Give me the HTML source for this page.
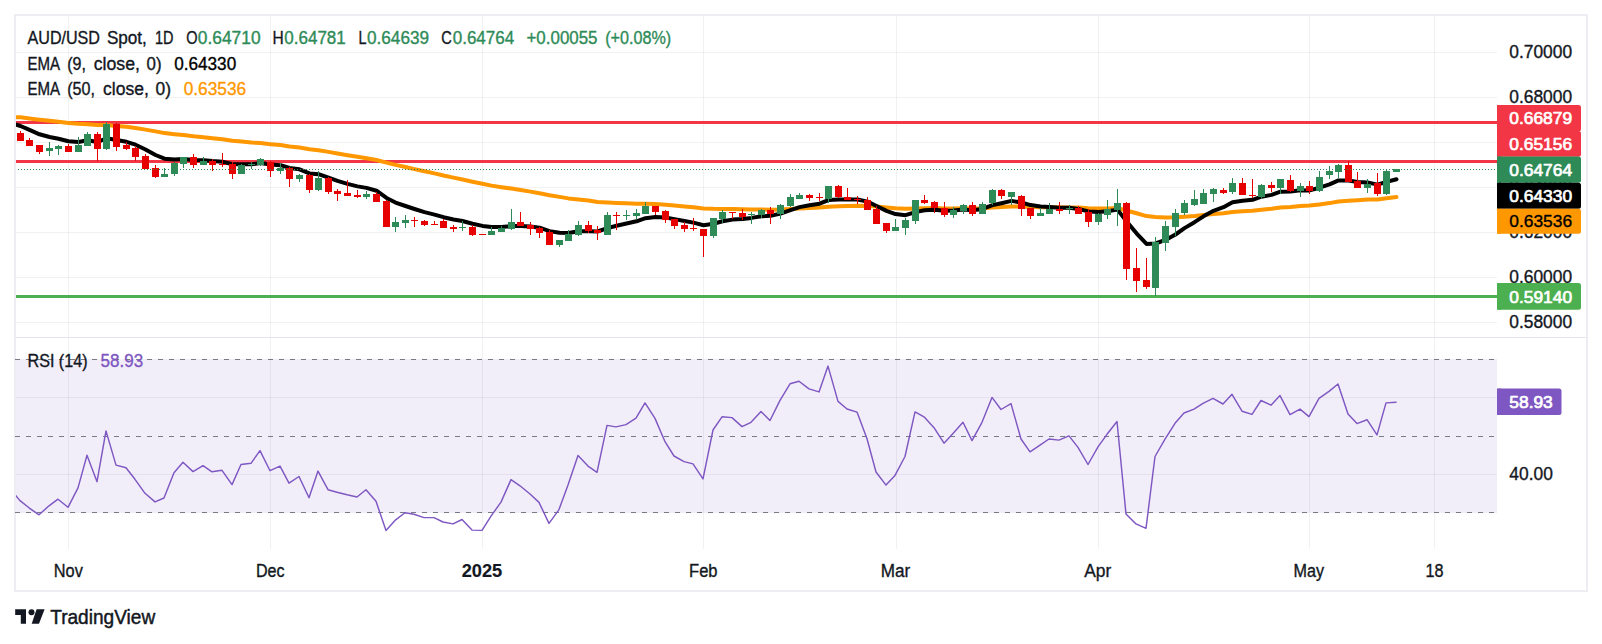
<!DOCTYPE html>
<html lang="en"><head><meta charset="utf-8"><title>AUD/USD Spot, 1D - TradingView</title>
<style>html,body{margin:0;padding:0;background:#fff;}body{width:1602px;height:644px;overflow:hidden;font-family:"Liberation Sans",Arial,sans-serif;}svg{display:block}</style>
</head><body>
<svg width="1602" height="644" viewBox="0 0 1602 644" font-family="'Liberation Sans', Arial, sans-serif">
<defs>
<clipPath id="cm"><rect x="16" y="16" width="1481" height="321"/></clipPath>
<clipPath id="cr"><rect x="16" y="338" width="1481" height="211"/></clipPath>
</defs>
<rect width="1602" height="644" fill="#fff"/>
<rect x="15" y="15" width="1572" height="576" fill="none" stroke="#eceef4" stroke-width="2"/>
<rect x="16" y="337" width="1570" height="1" fill="#e3e5ec"/>
<rect x="16" y="359" width="1481" height="154" fill="#f2eef9"/>
<g fill="rgba(42,46,57,0.065)" shape-rendering="crispEdges">
<rect x="68" y="16" width="1" height="321"/><rect x="68" y="338" width="1" height="211"/>
<rect x="270" y="16" width="1" height="321"/><rect x="270" y="338" width="1" height="211"/>
<rect x="482" y="16" width="1" height="321"/><rect x="482" y="338" width="1" height="211"/>
<rect x="703" y="16" width="1" height="321"/><rect x="703" y="338" width="1" height="211"/>
<rect x="896" y="16" width="1" height="321"/><rect x="896" y="338" width="1" height="211"/>
<rect x="1098" y="16" width="1" height="321"/><rect x="1098" y="338" width="1" height="211"/>
<rect x="1309" y="16" width="1" height="321"/><rect x="1309" y="338" width="1" height="211"/>
<rect x="1434" y="16" width="1" height="321"/><rect x="1434" y="338" width="1" height="211"/>
<rect x="16" y="52" width="1481" height="1"/>
<rect x="16" y="97" width="1481" height="1"/>
<rect x="16" y="142" width="1481" height="1"/>
<rect x="16" y="187" width="1481" height="1"/>
<rect x="16" y="232" width="1481" height="1"/>
<rect x="16" y="277" width="1481" height="1"/>
<rect x="16" y="322" width="1481" height="1"/>
<rect x="16" y="397" width="1481" height="1"/>
<rect x="16" y="474" width="1481" height="1"/>
</g>
<g clip-path="url(#cm)">
<rect x="16" y="121" width="1481" height="3" fill="#f23645"/>
<rect x="16" y="160" width="1481" height="3" fill="#f23645"/>
<rect x="16" y="295" width="1481" height="3" fill="#4caf50"/>
<polyline points="10.5,117.0 20.5,117.3 29.5,118.4 39.5,119.7 49.5,120.8 58.5,121.8 68.5,122.9 78.5,123.8 87.5,124.2 97.5,125.1 106.5,125.1 116.5,125.9 126.5,126.8 135.5,128.0 145.5,129.6 155.5,131.4 164.5,133.1 174.5,134.2 183.5,135.1 193.5,136.3 203.5,137.2 212.5,138.3 222.5,139.3 232.5,140.7 241.5,141.6 251.5,142.5 260.5,143.1 270.5,144.2 280.5,145.1 289.5,146.4 299.5,147.5 309.5,149.2 318.5,150.3 328.5,151.9 337.5,153.5 347.5,155.2 357.5,156.8 366.5,158.3 376.5,160.0 386.5,162.6 395.5,164.9 405.5,167.0 414.5,169.1 424.5,171.3 434.5,173.4 443.5,175.5 453.5,177.6 462.5,179.5 472.5,181.7 482.5,183.8 491.5,185.6 501.5,187.2 511.5,188.6 520.5,190.0 530.5,191.6 539.5,193.2 549.5,195.2 559.5,196.9 568.5,198.4 578.5,199.4 588.5,200.6 597.5,201.9 607.5,202.4 616.5,202.9 626.5,203.3 636.5,203.7 645.5,203.8 655.5,204.1 665.5,204.7 674.5,205.5 684.5,206.4 693.5,207.3 703.5,208.4 713.5,208.8 722.5,208.9 732.5,209.0 742.5,209.3 751.5,209.5 761.5,209.5 770.5,209.7 780.5,209.5 790.5,208.9 799.5,208.4 809.5,208.0 819.5,207.6 828.5,206.7 838.5,206.3 847.5,206.0 857.5,205.8 867.5,205.9 876.5,206.6 886.5,207.6 895.5,208.3 905.5,208.8 915.5,208.4 924.5,208.2 934.5,208.1 944.5,208.4 953.5,208.4 963.5,208.3 972.5,208.5 982.5,208.3 992.5,207.6 1001.5,207.1 1011.5,206.5 1021.5,206.6 1030.5,206.9 1040.5,207.2 1049.5,207.2 1059.5,207.3 1069.5,207.4 1078.5,207.6 1088.5,208.2 1098.5,208.4 1107.5,208.4 1117.5,208.1 1126.5,210.5 1136.5,213.3 1146.5,216.1 1155.5,217.1 1165.5,217.5 1175.5,217.3 1184.5,216.7 1194.5,216.0 1203.5,215.1 1213.5,214.0 1223.5,213.2 1232.5,212.0 1242.5,211.3 1252.5,210.7 1261.5,209.7 1271.5,208.8 1280.5,207.6 1290.5,207.0 1300.5,206.1 1309.5,205.5 1319.5,204.4 1329.5,203.1 1338.5,201.5 1348.5,200.8 1357.5,200.2 1367.5,199.6 1377.5,199.4 1386.5,198.2 1396.5,197.1" fill="none" stroke="#ff9800" stroke-width="4" stroke-linejoin="round" stroke-linecap="round"/>
<polyline points="10.5,123.0 20.5,126.0 29.5,129.9 39.5,134.3 49.5,137.0 58.5,138.7 68.5,141.3 78.5,142.0 87.5,140.3 97.5,142.0 106.5,138.3 116.5,140.0 126.5,141.8 135.5,144.7 145.5,149.5 155.5,155.0 164.5,158.7 174.5,159.5 183.5,158.9 193.5,160.1 203.5,160.2 212.5,161.1 222.5,161.8 232.5,164.2 241.5,164.3 251.5,164.2 260.5,163.1 270.5,164.6 280.5,165.2 289.5,167.9 299.5,169.3 309.5,173.4 318.5,174.2 328.5,177.7 337.5,180.9 347.5,183.9 357.5,186.4 366.5,187.9 376.5,190.7 386.5,197.9 395.5,202.6 405.5,206.0 414.5,209.0 424.5,212.1 434.5,214.6 443.5,217.2 453.5,219.5 462.5,221.0 472.5,223.7 482.5,225.9 491.5,226.9 501.5,227.0 511.5,226.0 520.5,225.9 530.5,226.5 539.5,227.7 549.5,231.1 559.5,232.8 568.5,233.0 578.5,231.3 588.5,231.2 597.5,231.5 607.5,228.1 616.5,225.7 626.5,223.5 636.5,221.3 645.5,218.2 655.5,216.9 665.5,217.5 674.5,219.1 684.5,221.0 693.5,222.6 703.5,225.2 713.5,223.7 722.5,221.3 732.5,219.6 742.5,219.0 751.5,217.9 761.5,216.3 770.5,215.8 780.5,213.6 790.5,210.2 799.5,207.1 809.5,205.2 819.5,203.7 828.5,200.1 838.5,199.4 847.5,199.5 857.5,199.5 867.5,201.6 876.5,206.0 886.5,210.9 895.5,214.1 905.5,215.2 915.5,212.1 924.5,210.2 934.5,209.7 944.5,210.7 953.5,210.5 963.5,209.4 972.5,210.2 982.5,208.9 992.5,205.1 1001.5,203.2 1011.5,200.9 1021.5,202.5 1030.5,205.1 1040.5,206.6 1049.5,207.0 1059.5,207.8 1069.5,207.8 1078.5,208.9 1088.5,211.5 1098.5,211.9 1107.5,211.3 1117.5,209.6 1126.5,221.4 1136.5,233.3 1146.5,243.9 1155.5,243.5 1165.5,239.9 1175.5,234.5 1184.5,228.1 1194.5,222.2 1203.5,216.3 1213.5,210.8 1223.5,207.2 1232.5,202.3 1242.5,200.8 1252.5,199.8 1261.5,196.7 1271.5,194.9 1280.5,191.7 1290.5,191.5 1300.5,190.3 1309.5,190.4 1319.5,187.7 1329.5,184.3 1338.5,180.4 1348.5,180.6 1357.5,182.0 1367.5,182.4 1377.5,184.6 1386.5,181.9 1396.5,179.2" fill="none" stroke="#000" stroke-width="4" stroke-linejoin="round" stroke-linecap="round"/>
<g shape-rendering="crispEdges">
<rect x="20" y="131" width="1" height="10" fill="#e60000"/><rect x="17" y="133" width="7" height="8" fill="#e60000"/>
<rect x="29" y="138" width="1" height="8" fill="#e60000"/><rect x="26" y="140" width="7" height="6" fill="#e60000"/>
<rect x="39" y="145" width="1" height="9" fill="#e60000"/><rect x="36" y="145" width="7" height="7" fill="#e60000"/>
<rect x="49" y="142" width="1" height="14" fill="#2e8b57"/><rect x="46" y="148" width="7" height="3" fill="#2e8b57"/>
<rect x="58" y="145" width="1" height="10" fill="#2e8b57"/><rect x="55" y="146" width="7" height="3" fill="#2e8b57"/>
<rect x="68" y="144" width="1" height="8" fill="#e60000"/><rect x="65" y="146" width="7" height="6" fill="#e60000"/>
<rect x="78" y="137" width="1" height="15" fill="#2e8b57"/><rect x="75" y="145" width="7" height="7" fill="#2e8b57"/>
<rect x="87" y="132" width="1" height="14" fill="#2e8b57"/><rect x="84" y="134" width="7" height="12" fill="#2e8b57"/>
<rect x="97" y="132" width="1" height="29" fill="#e60000"/><rect x="94" y="134" width="7" height="15" fill="#e60000"/>
<rect x="106" y="122" width="1" height="28" fill="#2e8b57"/><rect x="103" y="124" width="7" height="25" fill="#2e8b57"/>
<rect x="116" y="123" width="1" height="28" fill="#e60000"/><rect x="113" y="124" width="7" height="23" fill="#e60000"/>
<rect x="126" y="142" width="1" height="8" fill="#e60000"/><rect x="123" y="145" width="7" height="4" fill="#e60000"/>
<rect x="135" y="146" width="1" height="15" fill="#e60000"/><rect x="132" y="148" width="7" height="9" fill="#e60000"/>
<rect x="145" y="154" width="1" height="15" fill="#e60000"/><rect x="142" y="156" width="7" height="13" fill="#e60000"/>
<rect x="155" y="165" width="1" height="13" fill="#e60000"/><rect x="152" y="168" width="7" height="9" fill="#e60000"/>
<rect x="164" y="168" width="1" height="9" fill="#2e8b57"/><rect x="161" y="174" width="7" height="3" fill="#2e8b57"/>
<rect x="174" y="162" width="1" height="14" fill="#2e8b57"/><rect x="171" y="163" width="7" height="11" fill="#2e8b57"/>
<rect x="183" y="157" width="1" height="11" fill="#2e8b57"/><rect x="180" y="157" width="7" height="7" fill="#2e8b57"/>
<rect x="193" y="154" width="1" height="14" fill="#e60000"/><rect x="190" y="157" width="7" height="8" fill="#e60000"/>
<rect x="203" y="157" width="1" height="8" fill="#2e8b57"/><rect x="200" y="161" width="7" height="4" fill="#2e8b57"/>
<rect x="212" y="159" width="1" height="12" fill="#e60000"/><rect x="209" y="161" width="7" height="4" fill="#e60000"/>
<rect x="222" y="153" width="1" height="14" fill="#e60000"/><rect x="219" y="164" width="7" height="1" fill="#e60000"/>
<rect x="232" y="162" width="1" height="17" fill="#e60000"/><rect x="229" y="164" width="7" height="10" fill="#e60000"/>
<rect x="241" y="164" width="1" height="10" fill="#2e8b57"/><rect x="238" y="165" width="7" height="9" fill="#2e8b57"/>
<rect x="251" y="162" width="1" height="7" fill="#2e8b57"/><rect x="248" y="164" width="7" height="1" fill="#2e8b57"/>
<rect x="260" y="158" width="1" height="8" fill="#2e8b57"/><rect x="257" y="159" width="7" height="6" fill="#2e8b57"/>
<rect x="270" y="161" width="1" height="16" fill="#e60000"/><rect x="267" y="162" width="7" height="9" fill="#e60000"/>
<rect x="280" y="163" width="1" height="11" fill="#2e8b57"/><rect x="277" y="168" width="7" height="3" fill="#2e8b57"/>
<rect x="289" y="167" width="1" height="20" fill="#e60000"/><rect x="286" y="168" width="7" height="11" fill="#e60000"/>
<rect x="299" y="174" width="1" height="8" fill="#2e8b57"/><rect x="296" y="175" width="7" height="4" fill="#2e8b57"/>
<rect x="309" y="174" width="1" height="19" fill="#e60000"/><rect x="306" y="175" width="7" height="15" fill="#e60000"/>
<rect x="318" y="171" width="1" height="20" fill="#2e8b57"/><rect x="315" y="178" width="7" height="12" fill="#2e8b57"/>
<rect x="328" y="177" width="1" height="17" fill="#e60000"/><rect x="325" y="178" width="7" height="14" fill="#e60000"/>
<rect x="337" y="189" width="1" height="12" fill="#e60000"/><rect x="334" y="191" width="7" height="3" fill="#e60000"/>
<rect x="347" y="180" width="1" height="16" fill="#e60000"/><rect x="344" y="193" width="7" height="3" fill="#e60000"/>
<rect x="357" y="190" width="1" height="8" fill="#e60000"/><rect x="354" y="195" width="7" height="2" fill="#e60000"/>
<rect x="366" y="191" width="1" height="8" fill="#2e8b57"/><rect x="363" y="194" width="7" height="3" fill="#2e8b57"/>
<rect x="376" y="192" width="1" height="10" fill="#e60000"/><rect x="373" y="194" width="7" height="8" fill="#e60000"/>
<rect x="386" y="200" width="1" height="27" fill="#e60000"/><rect x="383" y="201" width="7" height="26" fill="#e60000"/>
<rect x="395" y="217" width="1" height="15" fill="#2e8b57"/><rect x="392" y="222" width="7" height="5" fill="#2e8b57"/>
<rect x="405" y="215" width="1" height="13" fill="#2e8b57"/><rect x="402" y="220" width="7" height="3" fill="#2e8b57"/>
<rect x="414" y="217" width="1" height="10" fill="#e60000"/><rect x="411" y="220" width="7" height="1" fill="#e60000"/>
<rect x="424" y="220" width="1" height="6" fill="#e60000"/><rect x="421" y="221" width="7" height="4" fill="#e60000"/>
<rect x="434" y="221" width="1" height="4" fill="#e60000"/><rect x="431" y="224" width="7" height="1" fill="#e60000"/>
<rect x="443" y="219" width="1" height="9" fill="#e60000"/><rect x="440" y="221" width="7" height="7" fill="#e60000"/>
<rect x="453" y="225" width="1" height="7" fill="#e60000"/><rect x="450" y="227" width="7" height="2" fill="#e60000"/>
<rect x="462" y="221" width="1" height="10" fill="#2e8b57"/><rect x="459" y="227" width="7" height="1" fill="#2e8b57"/>
<rect x="472" y="225" width="1" height="11" fill="#e60000"/><rect x="469" y="227" width="7" height="8" fill="#e60000"/>
<rect x="482" y="234" width="1" height="1" fill="#e60000"/><rect x="479" y="234" width="7" height="1" fill="#e60000"/>
<rect x="491" y="227" width="1" height="8" fill="#2e8b57"/><rect x="488" y="231" width="7" height="4" fill="#2e8b57"/>
<rect x="501" y="226" width="1" height="6" fill="#2e8b57"/><rect x="498" y="228" width="7" height="4" fill="#2e8b57"/>
<rect x="511" y="209" width="1" height="21" fill="#2e8b57"/><rect x="508" y="222" width="7" height="7" fill="#2e8b57"/>
<rect x="520" y="212" width="1" height="14" fill="#e60000"/><rect x="517" y="222" width="7" height="4" fill="#e60000"/>
<rect x="530" y="222" width="1" height="13" fill="#e60000"/><rect x="527" y="225" width="7" height="4" fill="#e60000"/>
<rect x="539" y="227" width="1" height="11" fill="#e60000"/><rect x="536" y="228" width="7" height="5" fill="#e60000"/>
<rect x="549" y="230" width="1" height="15" fill="#e60000"/><rect x="546" y="232" width="7" height="13" fill="#e60000"/>
<rect x="559" y="240" width="1" height="7" fill="#2e8b57"/><rect x="556" y="240" width="7" height="5" fill="#2e8b57"/>
<rect x="568" y="230" width="1" height="11" fill="#2e8b57"/><rect x="565" y="234" width="7" height="7" fill="#2e8b57"/>
<rect x="578" y="221" width="1" height="15" fill="#2e8b57"/><rect x="575" y="225" width="7" height="10" fill="#2e8b57"/>
<rect x="588" y="221" width="1" height="12" fill="#e60000"/><rect x="585" y="225" width="7" height="6" fill="#e60000"/>
<rect x="597" y="226" width="1" height="14" fill="#e60000"/><rect x="594" y="230" width="7" height="3" fill="#e60000"/>
<rect x="607" y="212" width="1" height="23" fill="#2e8b57"/><rect x="604" y="215" width="7" height="20" fill="#2e8b57"/>
<rect x="616" y="212" width="1" height="18" fill="#e60000"/><rect x="613" y="215" width="7" height="1" fill="#e60000"/>
<rect x="626" y="210" width="1" height="10" fill="#2e8b57"/><rect x="623" y="215" width="7" height="1" fill="#2e8b57"/>
<rect x="636" y="209" width="1" height="10" fill="#2e8b57"/><rect x="633" y="213" width="7" height="3" fill="#2e8b57"/>
<rect x="645" y="202" width="1" height="12" fill="#2e8b57"/><rect x="642" y="206" width="7" height="8" fill="#2e8b57"/>
<rect x="655" y="206" width="1" height="9" fill="#e60000"/><rect x="652" y="206" width="7" height="6" fill="#e60000"/>
<rect x="665" y="210" width="1" height="13" fill="#e60000"/><rect x="662" y="211" width="7" height="9" fill="#e60000"/>
<rect x="674" y="219" width="1" height="10" fill="#e60000"/><rect x="671" y="219" width="7" height="7" fill="#e60000"/>
<rect x="684" y="222" width="1" height="10" fill="#e60000"/><rect x="681" y="225" width="7" height="4" fill="#e60000"/>
<rect x="693" y="218" width="1" height="13" fill="#e60000"/><rect x="690" y="228" width="7" height="1" fill="#e60000"/>
<rect x="703" y="229" width="1" height="28" fill="#e60000"/><rect x="700" y="229" width="7" height="7" fill="#e60000"/>
<rect x="713" y="218" width="1" height="20" fill="#2e8b57"/><rect x="710" y="218" width="7" height="18" fill="#2e8b57"/>
<rect x="722" y="210" width="1" height="13" fill="#2e8b57"/><rect x="719" y="212" width="7" height="7" fill="#2e8b57"/>
<rect x="732" y="212" width="1" height="7" fill="#e60000"/><rect x="729" y="212" width="7" height="1" fill="#e60000"/>
<rect x="742" y="209" width="1" height="11" fill="#e60000"/><rect x="739" y="213" width="7" height="4" fill="#e60000"/>
<rect x="751" y="212" width="1" height="12" fill="#2e8b57"/><rect x="748" y="214" width="7" height="1" fill="#2e8b57"/>
<rect x="761" y="209" width="1" height="9" fill="#2e8b57"/><rect x="758" y="210" width="7" height="5" fill="#2e8b57"/>
<rect x="770" y="207" width="1" height="17" fill="#e60000"/><rect x="767" y="210" width="7" height="4" fill="#e60000"/>
<rect x="780" y="204" width="1" height="15" fill="#2e8b57"/><rect x="777" y="205" width="7" height="9" fill="#2e8b57"/>
<rect x="790" y="194" width="1" height="13" fill="#2e8b57"/><rect x="787" y="197" width="7" height="9" fill="#2e8b57"/>
<rect x="799" y="193" width="1" height="6" fill="#2e8b57"/><rect x="796" y="195" width="7" height="4" fill="#2e8b57"/>
<rect x="809" y="194" width="1" height="7" fill="#e60000"/><rect x="806" y="195" width="7" height="3" fill="#e60000"/>
<rect x="819" y="193" width="1" height="8" fill="#e60000"/><rect x="816" y="197" width="7" height="1" fill="#e60000"/>
<rect x="828" y="186" width="1" height="17" fill="#2e8b57"/><rect x="825" y="186" width="7" height="13" fill="#2e8b57"/>
<rect x="838" y="185" width="1" height="13" fill="#e60000"/><rect x="835" y="186" width="7" height="11" fill="#e60000"/>
<rect x="847" y="188" width="1" height="12" fill="#e60000"/><rect x="844" y="197" width="7" height="3" fill="#e60000"/>
<rect x="857" y="196" width="1" height="8" fill="#e60000"/><rect x="854" y="199" width="7" height="1" fill="#e60000"/>
<rect x="867" y="197" width="1" height="13" fill="#e60000"/><rect x="864" y="200" width="7" height="10" fill="#e60000"/>
<rect x="876" y="206" width="1" height="18" fill="#e60000"/><rect x="873" y="209" width="7" height="15" fill="#e60000"/>
<rect x="886" y="223" width="1" height="10" fill="#e60000"/><rect x="883" y="223" width="7" height="8" fill="#e60000"/>
<rect x="895" y="219" width="1" height="12" fill="#2e8b57"/><rect x="892" y="227" width="7" height="4" fill="#2e8b57"/>
<rect x="905" y="218" width="1" height="17" fill="#2e8b57"/><rect x="902" y="220" width="7" height="8" fill="#2e8b57"/>
<rect x="915" y="200" width="1" height="24" fill="#2e8b57"/><rect x="912" y="200" width="7" height="21" fill="#2e8b57"/>
<rect x="924" y="195" width="1" height="9" fill="#e60000"/><rect x="921" y="200" width="7" height="3" fill="#e60000"/>
<rect x="934" y="201" width="1" height="12" fill="#e60000"/><rect x="931" y="202" width="7" height="6" fill="#e60000"/>
<rect x="944" y="202" width="1" height="15" fill="#e60000"/><rect x="941" y="208" width="7" height="7" fill="#e60000"/>
<rect x="953" y="207" width="1" height="11" fill="#2e8b57"/><rect x="950" y="210" width="7" height="5" fill="#2e8b57"/>
<rect x="963" y="204" width="1" height="10" fill="#2e8b57"/><rect x="960" y="205" width="7" height="6" fill="#2e8b57"/>
<rect x="972" y="202" width="1" height="14" fill="#e60000"/><rect x="969" y="205" width="7" height="9" fill="#e60000"/>
<rect x="982" y="202" width="1" height="12" fill="#2e8b57"/><rect x="979" y="204" width="7" height="10" fill="#2e8b57"/>
<rect x="992" y="189" width="1" height="16" fill="#2e8b57"/><rect x="989" y="190" width="7" height="13" fill="#2e8b57"/>
<rect x="1001" y="189" width="1" height="10" fill="#e60000"/><rect x="998" y="190" width="7" height="6" fill="#e60000"/>
<rect x="1011" y="192" width="1" height="13" fill="#2e8b57"/><rect x="1008" y="192" width="7" height="5" fill="#2e8b57"/>
<rect x="1021" y="195" width="1" height="21" fill="#e60000"/><rect x="1018" y="196" width="7" height="13" fill="#e60000"/>
<rect x="1030" y="208" width="1" height="11" fill="#e60000"/><rect x="1027" y="208" width="7" height="8" fill="#e60000"/>
<rect x="1040" y="208" width="1" height="8" fill="#2e8b57"/><rect x="1037" y="213" width="7" height="3" fill="#2e8b57"/>
<rect x="1049" y="203" width="1" height="11" fill="#2e8b57"/><rect x="1046" y="209" width="7" height="5" fill="#2e8b57"/>
<rect x="1059" y="202" width="1" height="12" fill="#e60000"/><rect x="1056" y="209" width="7" height="2" fill="#e60000"/>
<rect x="1069" y="205" width="1" height="9" fill="#2e8b57"/><rect x="1066" y="208" width="7" height="1" fill="#2e8b57"/>
<rect x="1078" y="206" width="1" height="8" fill="#e60000"/><rect x="1075" y="208" width="7" height="6" fill="#e60000"/>
<rect x="1088" y="209" width="1" height="18" fill="#e60000"/><rect x="1085" y="212" width="7" height="10" fill="#e60000"/>
<rect x="1098" y="213" width="1" height="12" fill="#2e8b57"/><rect x="1095" y="214" width="7" height="8" fill="#2e8b57"/>
<rect x="1107" y="200" width="1" height="19" fill="#2e8b57"/><rect x="1104" y="209" width="7" height="6" fill="#2e8b57"/>
<rect x="1117" y="189" width="1" height="37" fill="#2e8b57"/><rect x="1114" y="203" width="7" height="7" fill="#2e8b57"/>
<rect x="1126" y="202" width="1" height="78" fill="#e60000"/><rect x="1123" y="203" width="7" height="66" fill="#e60000"/>
<rect x="1136" y="248" width="1" height="44" fill="#e60000"/><rect x="1133" y="268" width="7" height="13" fill="#e60000"/>
<rect x="1146" y="258" width="1" height="31" fill="#e60000"/><rect x="1143" y="280" width="7" height="7" fill="#e60000"/>
<rect x="1155" y="237" width="1" height="59" fill="#2e8b57"/><rect x="1152" y="242" width="7" height="46" fill="#2e8b57"/>
<rect x="1165" y="221" width="1" height="30" fill="#2e8b57"/><rect x="1162" y="226" width="7" height="17" fill="#2e8b57"/>
<rect x="1175" y="209" width="1" height="27" fill="#2e8b57"/><rect x="1172" y="213" width="7" height="14" fill="#2e8b57"/>
<rect x="1184" y="200" width="1" height="15" fill="#2e8b57"/><rect x="1181" y="203" width="7" height="10" fill="#2e8b57"/>
<rect x="1194" y="190" width="1" height="16" fill="#2e8b57"/><rect x="1191" y="199" width="7" height="6" fill="#2e8b57"/>
<rect x="1203" y="189" width="1" height="15" fill="#2e8b57"/><rect x="1200" y="193" width="7" height="11" fill="#2e8b57"/>
<rect x="1213" y="188" width="1" height="14" fill="#2e8b57"/><rect x="1210" y="189" width="7" height="5" fill="#2e8b57"/>
<rect x="1223" y="188" width="1" height="6" fill="#e60000"/><rect x="1220" y="190" width="7" height="3" fill="#e60000"/>
<rect x="1232" y="178" width="1" height="16" fill="#2e8b57"/><rect x="1229" y="183" width="7" height="9" fill="#2e8b57"/>
<rect x="1242" y="178" width="1" height="17" fill="#e60000"/><rect x="1239" y="183" width="7" height="12" fill="#e60000"/>
<rect x="1252" y="179" width="1" height="19" fill="#e60000"/><rect x="1249" y="195" width="7" height="1" fill="#e60000"/>
<rect x="1261" y="184" width="1" height="15" fill="#2e8b57"/><rect x="1258" y="185" width="7" height="12" fill="#2e8b57"/>
<rect x="1271" y="182" width="1" height="10" fill="#e60000"/><rect x="1268" y="185" width="7" height="3" fill="#e60000"/>
<rect x="1280" y="179" width="1" height="15" fill="#2e8b57"/><rect x="1277" y="179" width="7" height="9" fill="#2e8b57"/>
<rect x="1290" y="175" width="1" height="17" fill="#e60000"/><rect x="1287" y="180" width="7" height="11" fill="#e60000"/>
<rect x="1300" y="183" width="1" height="14" fill="#2e8b57"/><rect x="1297" y="186" width="7" height="5" fill="#2e8b57"/>
<rect x="1309" y="181" width="1" height="13" fill="#e60000"/><rect x="1306" y="186" width="7" height="5" fill="#e60000"/>
<rect x="1319" y="171" width="1" height="21" fill="#2e8b57"/><rect x="1316" y="177" width="7" height="14" fill="#2e8b57"/>
<rect x="1329" y="166" width="1" height="13" fill="#2e8b57"/><rect x="1326" y="171" width="7" height="4" fill="#2e8b57"/>
<rect x="1338" y="164" width="1" height="14" fill="#2e8b57"/><rect x="1335" y="165" width="7" height="7" fill="#2e8b57"/>
<rect x="1348" y="161" width="1" height="21" fill="#e60000"/><rect x="1345" y="165" width="7" height="17" fill="#e60000"/>
<rect x="1357" y="172" width="1" height="16" fill="#e60000"/><rect x="1354" y="181" width="7" height="7" fill="#e60000"/>
<rect x="1367" y="179" width="1" height="14" fill="#2e8b57"/><rect x="1364" y="184" width="7" height="4" fill="#2e8b57"/>
<rect x="1377" y="173" width="1" height="23" fill="#e60000"/><rect x="1374" y="183" width="7" height="11" fill="#e60000"/>
<rect x="1386" y="170" width="1" height="25" fill="#2e8b57"/><rect x="1383" y="171" width="7" height="23" fill="#2e8b57"/>
<rect x="1396" y="169" width="1" height="3" fill="#2e8b57"/><rect x="1393" y="169" width="7" height="3" fill="#2e8b57"/>
</g>
<line x1="15" y1="169.5" x2="1497" y2="169.5" stroke="#2e8b57" stroke-width="1" stroke-dasharray="1 2" shape-rendering="crispEdges"/>
</g>
<line x1="15" y1="359.5" x2="1497" y2="359.5" stroke="#787b86" stroke-width="1.15" stroke-dasharray="5 6"/>
<line x1="15" y1="436.5" x2="1497" y2="436.5" stroke="#787b86" stroke-width="1.15" stroke-dasharray="5 6"/>
<line x1="15" y1="512.5" x2="1497" y2="512.5" stroke="#787b86" stroke-width="1.15" stroke-dasharray="5 6"/>
<g clip-path="url(#cr)">
<polyline points="10.0,489.0 20.0,500.6 29.0,507.8 39.0,514.8 49.0,505.8 58.0,499.2 68.0,507.3 78.0,487.9 87.0,455.3 97.0,481.7 106.0,430.9 116.0,465.1 126.0,467.7 135.0,479.3 145.0,493.3 155.0,501.9 164.0,498.0 174.0,472.8 183.0,462.3 193.0,471.6 203.0,465.7 212.0,471.8 222.0,470.3 232.0,484.6 241.0,464.5 251.0,463.3 260.0,450.6 270.0,470.7 280.0,466.1 289.0,483.2 299.0,476.5 309.0,497.8 318.0,471.1 328.0,489.7 337.0,492.3 347.0,494.8 357.0,497.0 366.0,489.7 376.0,501.3 386.0,530.4 395.0,520.4 405.0,512.7 414.0,514.2 424.0,517.6 434.0,517.6 443.0,522.0 453.0,523.9 462.0,519.5 472.0,530.1 482.0,530.4 491.0,516.1 501.0,502.1 511.0,479.6 520.0,485.8 530.0,494.0 539.0,502.4 549.0,523.4 559.0,509.6 568.0,485.0 578.0,455.4 588.0,466.1 597.0,472.3 607.0,425.4 616.0,426.9 626.0,424.6 636.0,418.1 645.0,402.9 655.0,418.4 665.0,441.7 674.0,456.0 684.0,461.6 693.0,463.9 703.0,478.9 713.0,430.0 722.0,416.8 732.0,417.6 742.0,426.6 751.0,422.3 761.0,411.5 770.0,420.5 780.0,400.4 790.0,383.8 799.0,381.2 809.0,388.9 819.0,391.9 828.0,366.1 838.0,401.4 847.0,409.0 857.0,412.1 867.0,438.7 876.0,472.0 886.0,485.1 895.0,475.4 905.0,456.5 915.0,411.9 924.0,416.8 934.0,427.7 944.0,443.2 953.0,433.4 963.0,422.3 972.0,440.6 982.0,422.3 992.0,397.4 1001.0,409.5 1011.0,403.6 1021.0,439.0 1030.0,451.8 1040.0,445.2 1049.0,439.0 1059.0,440.1 1069.0,435.9 1078.0,447.4 1088.0,464.5 1098.0,446.8 1107.0,434.3 1117.0,421.5 1126.0,514.1 1136.0,523.9 1146.0,528.3 1155.0,456.5 1165.0,439.1 1175.0,423.3 1184.0,413.0 1194.0,409.1 1203.0,403.3 1213.0,398.3 1223.0,404.0 1232.0,394.3 1242.0,411.2 1252.0,414.4 1261.0,400.5 1271.0,405.2 1280.0,395.6 1290.0,414.6 1300.0,409.1 1309.0,416.6 1319.0,398.4 1329.0,391.4 1338.0,384.0 1348.0,413.9 1357.0,423.6 1367.0,419.7 1377.0,434.9 1386.0,402.9 1396.0,402.2" fill="none" stroke="#7e57c2" stroke-width="1.45" stroke-linejoin="round" stroke-linecap="round"/>
</g>
<text x="1509.3" y="58.4" font-size="17.5" fill="#131722" stroke="#131722" stroke-width="0.35" stroke-linejoin="round" textLength="62.8" lengthAdjust="spacingAndGlyphs" xml:space="preserve">0.70000</text>
<text x="1509.3" y="103.4" font-size="17.5" fill="#131722" stroke="#131722" stroke-width="0.35" stroke-linejoin="round" textLength="62.8" lengthAdjust="spacingAndGlyphs" xml:space="preserve">0.68000</text>
<text x="1509.3" y="148.4" font-size="17.5" fill="#131722" stroke="#131722" stroke-width="0.35" stroke-linejoin="round" textLength="62.8" lengthAdjust="spacingAndGlyphs" xml:space="preserve">0.66000</text>
<text x="1509.3" y="193.4" font-size="17.5" fill="#131722" stroke="#131722" stroke-width="0.35" stroke-linejoin="round" textLength="62.8" lengthAdjust="spacingAndGlyphs" xml:space="preserve">0.64000</text>
<text x="1509.3" y="238.4" font-size="17.5" fill="#131722" stroke="#131722" stroke-width="0.35" stroke-linejoin="round" textLength="62.8" lengthAdjust="spacingAndGlyphs" xml:space="preserve">0.62000</text>
<text x="1509.3" y="283.4" font-size="17.5" fill="#131722" stroke="#131722" stroke-width="0.35" stroke-linejoin="round" textLength="62.8" lengthAdjust="spacingAndGlyphs" xml:space="preserve">0.60000</text>
<text x="1509.3" y="328.4" font-size="17.5" fill="#131722" stroke="#131722" stroke-width="0.35" stroke-linejoin="round" textLength="62.8" lengthAdjust="spacingAndGlyphs" xml:space="preserve">0.58000</text>
<text x="1509.3" y="480.4" font-size="17.5" fill="#131722" stroke="#131722" stroke-width="0.35" stroke-linejoin="round" textLength="43.5" lengthAdjust="spacingAndGlyphs" xml:space="preserve">40.00</text>
<rect x="1497" y="105" width="84" height="26.5" rx="2.5" fill="#f23645"/>
<rect x="1497" y="105" width="4" height="26.5" fill="#f23645"/>
<text x="1509.3" y="124.35" font-size="16.8" fill="#fff" stroke="#fff" stroke-width="0.7" stroke-linejoin="round" textLength="62.8" lengthAdjust="spacingAndGlyphs" xml:space="preserve">0.66879</text>
<rect x="1497" y="131" width="84" height="25.80000000000001" rx="2.5" fill="#f23645"/>
<rect x="1497" y="131" width="4" height="25.80000000000001" fill="#f23645"/>
<text x="1509.3" y="150.0" font-size="16.8" fill="#fff" stroke="#fff" stroke-width="0.7" stroke-linejoin="round" textLength="62.8" lengthAdjust="spacingAndGlyphs" xml:space="preserve">0.65156</text>
<rect x="1497" y="156.5" width="84" height="26.30000000000001" rx="2.5" fill="#2e8b57"/>
<rect x="1497" y="156.5" width="4" height="26.30000000000001" fill="#2e8b57"/>
<text x="1509.3" y="175.75" font-size="16.8" fill="#fff" stroke="#fff" stroke-width="0.7" stroke-linejoin="round" textLength="62.8" lengthAdjust="spacingAndGlyphs" xml:space="preserve">0.64764</text>
<rect x="1497" y="182.8" width="84" height="25.899999999999977" rx="2.5" fill="#000000"/>
<rect x="1497" y="182.8" width="4" height="25.899999999999977" fill="#000000"/>
<text x="1509.3" y="201.85" font-size="16.8" fill="#fff" stroke="#fff" stroke-width="0.7" stroke-linejoin="round" textLength="62.8" lengthAdjust="spacingAndGlyphs" xml:space="preserve">0.64330</text>
<rect x="1497" y="208.7" width="84" height="25.100000000000023" rx="2.5" fill="#ff9800"/>
<rect x="1497" y="208.7" width="4" height="25.100000000000023" fill="#ff9800"/>
<text x="1509.3" y="227.35" font-size="16.8" fill="#000" stroke="#000" stroke-width="0.35" stroke-linejoin="round" textLength="62.8" lengthAdjust="spacingAndGlyphs" xml:space="preserve">0.63536</text>
<rect x="1497" y="283" width="84" height="26.80000000000001" rx="2.5" fill="#4caf50"/>
<rect x="1497" y="283" width="4" height="26.80000000000001" fill="#4caf50"/>
<text x="1509.3" y="302.5" font-size="16.8" fill="#fff" stroke="#fff" stroke-width="0.7" stroke-linejoin="round" textLength="62.8" lengthAdjust="spacingAndGlyphs" xml:space="preserve">0.59140</text>
<rect x="1497" y="388.5" width="64.5" height="26.5" rx="2.5" fill="#7e57c2"/>
<rect x="1497" y="388.5" width="4" height="26.5" fill="#7e57c2"/>
<text x="1509.3" y="407.85" font-size="16.8" fill="#fff" stroke="#fff" stroke-width="0.7" stroke-linejoin="round" textLength="43.5" lengthAdjust="spacingAndGlyphs" xml:space="preserve">58.93</text>
<text x="27.5" y="44.2" font-size="17.5" fill="#131722" stroke="#131722" stroke-width="0.35" stroke-linejoin="round" textLength="72.5" lengthAdjust="spacingAndGlyphs" xml:space="preserve">AUD/USD</text>
<text x="106.9" y="44.2" font-size="17.5" fill="#131722" stroke="#131722" stroke-width="0.35" stroke-linejoin="round" textLength="40" lengthAdjust="spacingAndGlyphs" xml:space="preserve">Spot,</text>
<text x="155" y="44.2" font-size="17.5" fill="#131722" stroke="#131722" stroke-width="0.35" stroke-linejoin="round" textLength="18.5" lengthAdjust="spacingAndGlyphs" xml:space="preserve">1D</text>
<text x="186.2" y="44.2" font-size="17.5" fill="#131722" stroke="#131722" stroke-width="0.35" stroke-linejoin="round" textLength="11.3" lengthAdjust="spacingAndGlyphs" xml:space="preserve">O</text>
<text x="197.8" y="44.2" font-size="17.5" fill="#2e8b57" stroke="#2e8b57" stroke-width="0.35" stroke-linejoin="round" textLength="62.8" lengthAdjust="spacingAndGlyphs" xml:space="preserve">0.64710</text>
<text x="272.5" y="44.2" font-size="17.5" fill="#131722" stroke="#131722" stroke-width="0.35" stroke-linejoin="round" textLength="11.2" lengthAdjust="spacingAndGlyphs" xml:space="preserve">H</text>
<text x="284.3" y="44.2" font-size="17.5" fill="#2e8b57" stroke="#2e8b57" stroke-width="0.35" stroke-linejoin="round" textLength="61.5" lengthAdjust="spacingAndGlyphs" xml:space="preserve">0.64781</text>
<text x="358.5" y="44.2" font-size="17.5" fill="#131722" stroke="#131722" stroke-width="0.35" stroke-linejoin="round" textLength="8" lengthAdjust="spacingAndGlyphs" xml:space="preserve">L</text>
<text x="367" y="44.2" font-size="17.5" fill="#2e8b57" stroke="#2e8b57" stroke-width="0.35" stroke-linejoin="round" textLength="62" lengthAdjust="spacingAndGlyphs" xml:space="preserve">0.64639</text>
<text x="441.3" y="44.2" font-size="17.5" fill="#131722" stroke="#131722" stroke-width="0.35" stroke-linejoin="round" textLength="10.5" lengthAdjust="spacingAndGlyphs" xml:space="preserve">C</text>
<text x="452.7" y="44.2" font-size="17.5" fill="#2e8b57" stroke="#2e8b57" stroke-width="0.35" stroke-linejoin="round" textLength="61.5" lengthAdjust="spacingAndGlyphs" xml:space="preserve">0.64764</text>
<text x="526.5" y="44.2" font-size="17.5" fill="#2e8b57" stroke="#2e8b57" stroke-width="0.35" stroke-linejoin="round" textLength="71" lengthAdjust="spacingAndGlyphs" xml:space="preserve">+0.00055</text>
<text x="605.2" y="44.2" font-size="17.5" fill="#2e8b57" stroke="#2e8b57" stroke-width="0.35" stroke-linejoin="round" textLength="66" lengthAdjust="spacingAndGlyphs" xml:space="preserve">(+0.08%)</text>
<text x="27.5" y="69.5" font-size="17.5" fill="#131722" stroke="#131722" stroke-width="0.35" stroke-linejoin="round" textLength="32.6" lengthAdjust="spacingAndGlyphs" xml:space="preserve">EMA</text>
<text x="67.2" y="69.5" font-size="17.5" fill="#131722" stroke="#131722" stroke-width="0.35" stroke-linejoin="round" textLength="18.7" lengthAdjust="spacingAndGlyphs" xml:space="preserve">(9,</text>
<text x="93.7" y="69.5" font-size="17.5" fill="#131722" stroke="#131722" stroke-width="0.35" stroke-linejoin="round" textLength="46.2" lengthAdjust="spacingAndGlyphs" xml:space="preserve">close,</text>
<text x="146.6" y="69.5" font-size="17.5" fill="#131722" stroke="#131722" stroke-width="0.35" stroke-linejoin="round" textLength="15" lengthAdjust="spacingAndGlyphs" xml:space="preserve">0)</text>
<text x="174.2" y="69.5" font-size="17.5" fill="#000" stroke="#000" stroke-width="0.35" stroke-linejoin="round" textLength="62" lengthAdjust="spacingAndGlyphs" xml:space="preserve">0.64330</text>
<text x="27.5" y="95.0" font-size="17.5" fill="#131722" stroke="#131722" stroke-width="0.35" stroke-linejoin="round" textLength="32.6" lengthAdjust="spacingAndGlyphs" xml:space="preserve">EMA</text>
<text x="67.2" y="95.0" font-size="17.5" fill="#131722" stroke="#131722" stroke-width="0.35" stroke-linejoin="round" textLength="27.7" lengthAdjust="spacingAndGlyphs" xml:space="preserve">(50,</text>
<text x="103.1" y="95.0" font-size="17.5" fill="#131722" stroke="#131722" stroke-width="0.35" stroke-linejoin="round" textLength="45.7" lengthAdjust="spacingAndGlyphs" xml:space="preserve">close,</text>
<text x="155.6" y="95.0" font-size="17.5" fill="#131722" stroke="#131722" stroke-width="0.35" stroke-linejoin="round" textLength="15.5" lengthAdjust="spacingAndGlyphs" xml:space="preserve">0)</text>
<text x="183.7" y="95.0" font-size="17.5" fill="#ff9800" stroke="#ff9800" stroke-width="0.35" stroke-linejoin="round" textLength="62.5" lengthAdjust="spacingAndGlyphs" xml:space="preserve">0.63536</text>
<text x="27.5" y="366.6" font-size="17.5" fill="#131722" stroke="#131722" stroke-width="0.35" stroke-linejoin="round" textLength="60" lengthAdjust="spacingAndGlyphs" xml:space="preserve">RSI (14)</text>
<text x="100.6" y="366.6" font-size="17.5" fill="#7e57c2" stroke="#7e57c2" stroke-width="0.35" stroke-linejoin="round" textLength="42.5" lengthAdjust="spacingAndGlyphs" xml:space="preserve">58.93</text>
<text x="53.8" y="576.8" font-size="17.5" fill="#131722" stroke="#131722" stroke-width="0.35" stroke-linejoin="round" textLength="29" lengthAdjust="spacingAndGlyphs" xml:space="preserve">Nov</text>
<text x="256.0" y="576.8" font-size="17.5" fill="#131722" stroke="#131722" stroke-width="0.35" stroke-linejoin="round" textLength="28.6" lengthAdjust="spacingAndGlyphs" xml:space="preserve">Dec</text>
<text x="461.75" y="576.8" font-size="17.5" fill="#131722" stroke="#131722" stroke-width="0.15" stroke-linejoin="round" textLength="40.5" lengthAdjust="spacingAndGlyphs" font-weight="700" xml:space="preserve">2025</text>
<text x="689.05" y="576.8" font-size="17.5" fill="#131722" stroke="#131722" stroke-width="0.35" stroke-linejoin="round" textLength="28.5" lengthAdjust="spacingAndGlyphs" xml:space="preserve">Feb</text>
<text x="880.75" y="576.8" font-size="17.5" fill="#131722" stroke="#131722" stroke-width="0.35" stroke-linejoin="round" textLength="29.5" lengthAdjust="spacingAndGlyphs" xml:space="preserve">Mar</text>
<text x="1084.2" y="576.8" font-size="17.5" fill="#131722" stroke="#131722" stroke-width="0.35" stroke-linejoin="round" textLength="27" lengthAdjust="spacingAndGlyphs" xml:space="preserve">Apr</text>
<text x="1293.55" y="576.8" font-size="17.5" fill="#131722" stroke="#131722" stroke-width="0.35" stroke-linejoin="round" textLength="30.5" lengthAdjust="spacingAndGlyphs" xml:space="preserve">May</text>
<text x="1425.6" y="576.8" font-size="17.5" fill="#131722" stroke="#131722" stroke-width="0.35" stroke-linejoin="round" textLength="18" lengthAdjust="spacingAndGlyphs" xml:space="preserve">18</text>
<g fill="#131722"><path d="M15.2 609.2H26V623.8H20.8V615H15.2Z"/><circle cx="31.5" cy="612.2" r="3"/><path d="M36.6 609.2H44.6L39 623.8H31.7Z"/></g>
<text x="50.2" y="624.4" font-size="19.3" fill="#131722" stroke="#131722" stroke-width="0.45" stroke-linejoin="round" textLength="105" lengthAdjust="spacingAndGlyphs" xml:space="preserve">TradingView</text>
</svg>
</body></html>
